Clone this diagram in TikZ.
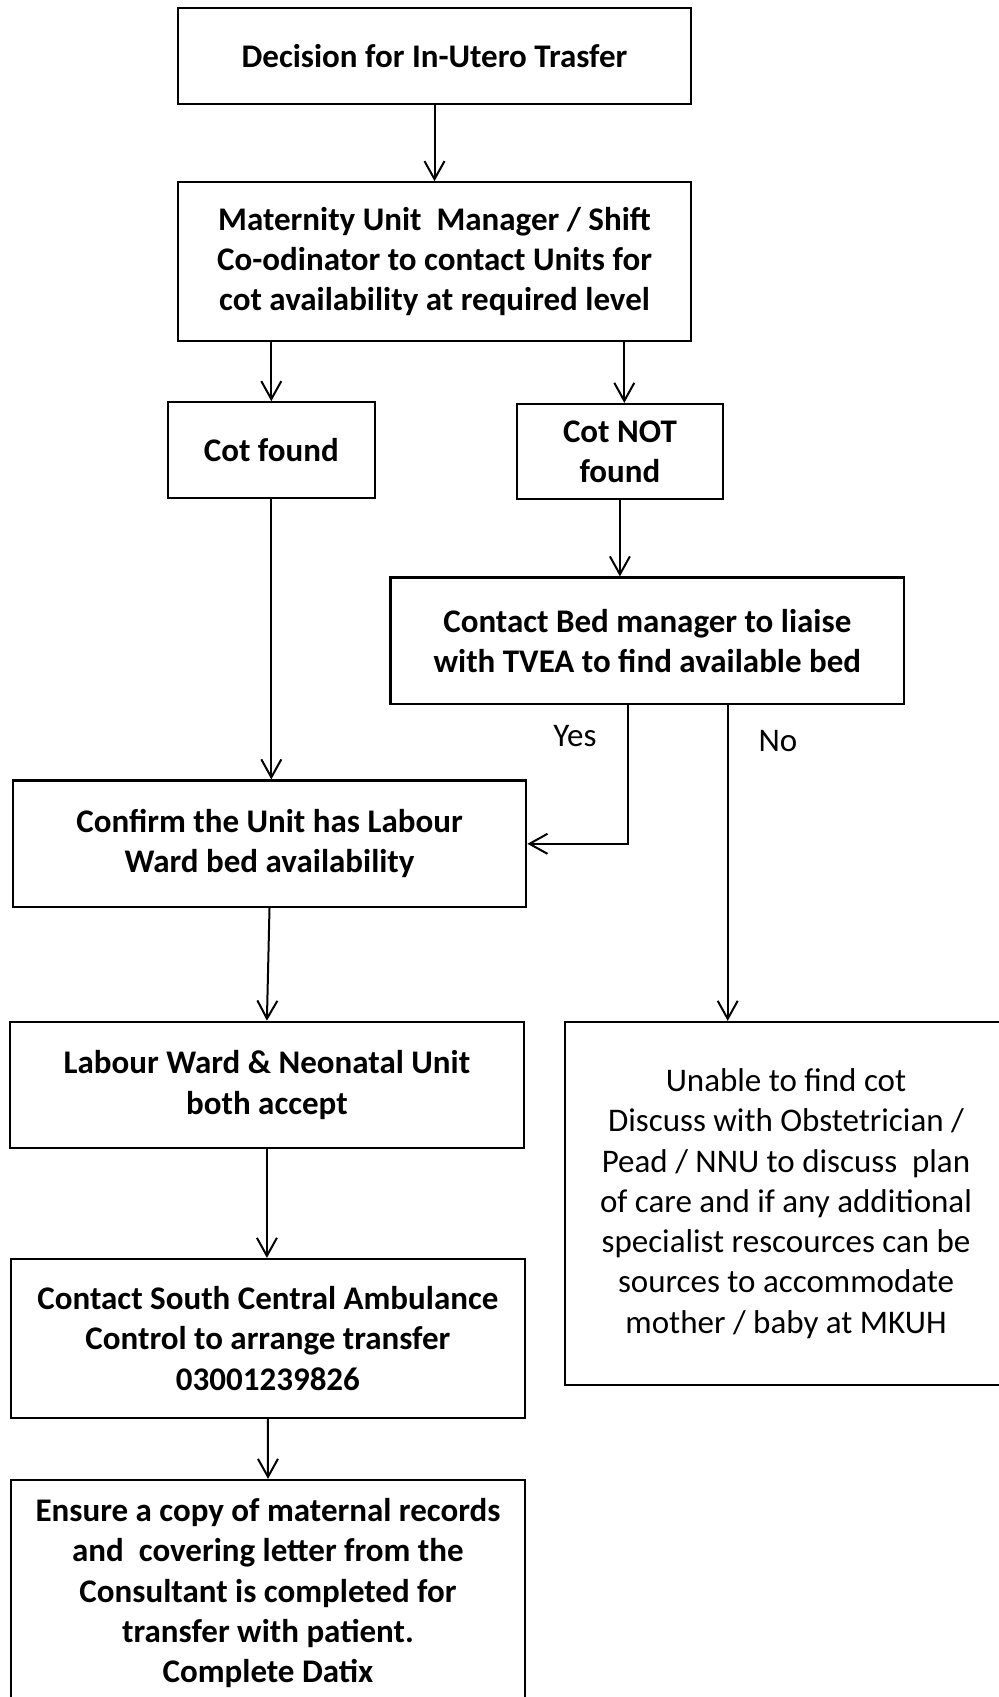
\documentclass[tikz,border=0pt]{standalone}
\usepackage{fontspec}
\setmainfont{Carlito}
\usetikzlibrary{positioning,arrows.meta}

\begin{document}
\begin{tikzpicture}[x=0.5pt,y=-0.5pt,
    flowbox/.style={draw,line width=1.1pt,align=center,inner sep=0pt,
      font=\fontsize{16.5}{20.15}\selectfont\bfseries},
    plainbox/.style={flowbox,font=\fontsize{16.5}{20.15}\selectfont},
    arr/.style={line width=1pt,-{Straight Barb[length=9pt,width=10pt]}},
    lbl/.style={font=\fontsize{16.5}{20.15}\selectfont}]
  \useasboundingbox (0,0) rectangle (999,1697);
  \clip (0,0) rectangle (999,1697);
  % main column
  \node[flowbox,minimum width=256.8pt,minimum height=47.7pt] (dec) at (434.5,56) {Decision for In-Utero Trasfer};
  \node[flowbox,minimum width=256.8pt,minimum height=79.4pt] (mgr) at (434.5,261.7)
    {Maternity Unit\ \ Manager / Shift\\Co-odinator to contact Units for\\cot availability at required level};
  \node[flowbox,minimum width=103.3pt,minimum height=48pt] (found) at (271.3,450.3) {Cot found};
  \node[flowbox,minimum width=103.2pt,minimum height=47.5pt] (notfound) at (619.9,451.5) {Cot NOT\\found};
  \node[flowbox,minimum width=256.8pt,minimum height=63.3pt] (bed) at (647.3,640.8)
    {Contact Bed manager to liaise\\with TVEA to find available bed};
  \node[flowbox,minimum width=256.8pt,minimum height=63.3pt] (confirm) at (269.5,843.8)
    {Confirm the Unit has Labour\\Ward bed availability};
  \node[flowbox,minimum width=256.9pt,minimum height=63.2pt] (labour) at (266.9,1085)
    {Labour Ward \& Neonatal Unit\\both accept};
  \node[plainbox,minimum width=221pt,minimum height=181.5pt] (unable) at (786,1203.5)
    {Unable to find cot\\Discuss with Obstetrician /\\Pead / NNU to discuss\ \ plan\\of care and if any additional\\specialist rescources can be\\sources to accommodate\\mother / baby at MKUH};
  \node[flowbox,minimum width=257.1pt,minimum height=79.5pt] (contact) at (267.9,1338.5)
    {Contact South Central Ambulance\\Control to arrange transfer\\03001239826};
  \node[flowbox,minimum width=257pt,minimum height=113pt] (ensure) at (268,1593)
    {Ensure a copy of maternal records\\and\ \ covering letter from the\\Consultant is completed for\\transfer with patient.\\Complete Datix};
  % branch labels
  \node[lbl] (yes) at (575,736) {Yes};
  \node[lbl] (no) at (778,741) {No};
  % connectors
  \draw[arr] (dec) -- (mgr);
  \draw[arr] (mgr.south -| found.north) -- (found.north);
  \draw[arr] ([xshift=2.2pt]mgr.south -| notfound.north) -- ([xshift=2.2pt]notfound.north);
  \draw[arr] (found.south) -- (found.south |- confirm.north);
  \draw[arr] (notfound.south) -- (notfound.south |- bed.north);
  \draw[arr] ([xshift=-9.65pt]bed.south) |- (confirm.east);
  \draw[arr] ([xshift=40.2pt]bed.south) -- ([xshift=40.2pt]bed.south |- unable.north);
  \draw[arr] (confirm.south) -- (labour.north);
  \draw[arr] (labour.south) -- (labour.south |- contact.north);
  \draw[arr] (contact.south) -- (ensure.north);
\end{tikzpicture}
\end{document}
